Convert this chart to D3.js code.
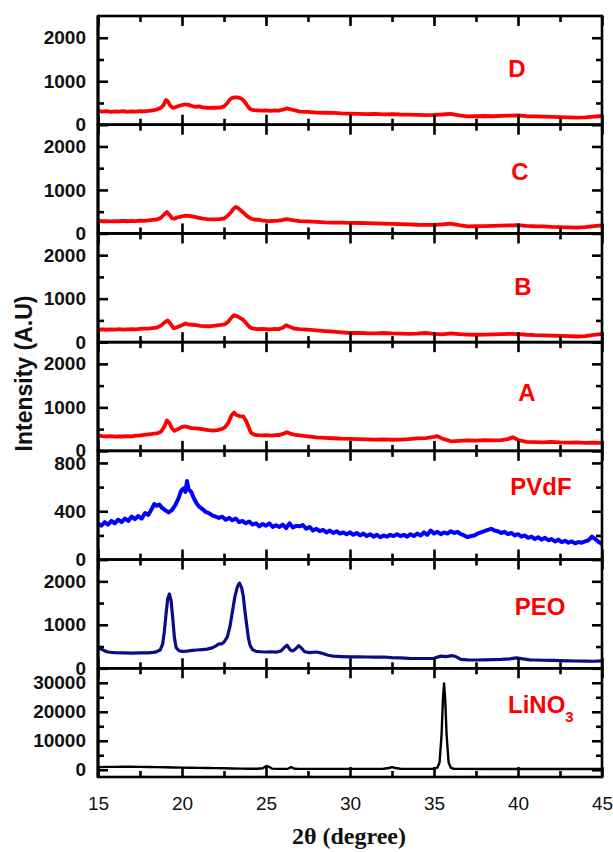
<!DOCTYPE html>
<html>
<head>
<meta charset="utf-8">
<script src="https://cdn.jsdelivr.net/npm/d3@7"></script>
<style>
  body { margin: 0; background: #ffffff; }
  svg { display: block; }
</style>
</head>
<body>
<svg id="chart" width="613" height="852"></svg>
<script>
// X-ray diffraction patterns, stacked panels sharing the 2θ axis.
const xTicksMajor = [15, 20, 25, 30, 35, 40, 45];
const xTicksMinor = [17.5, 22.5, 27.5, 32.5, 37.5, 42.5];

const panelNames = ["D", "C", "B", "A", "PVdF", "PEO", "LiNO3"];

// [2θ, intensity] pairs for each sample
const seriesD = [[15.0,320],[15.25,300],[15.5,310],[15.75,295],[16.0,305],[16.25,300],[16.5,310],[16.75,295],[17.0,305],[17.25,300],[17.5,315],[17.75,305],[18.0,320],[18.25,330],[18.5,350],[18.75,390],[18.9,450],[19.05,570],[19.15,540],[19.3,440],[19.45,390],[19.6,400],[19.8,430],[20.0,450],[20.2,470],[20.4,455],[20.6,430],[20.8,410],[21.0,420],[21.25,400],[21.5,390],[21.75,385],[22.0,390],[22.25,395],[22.5,420],[22.7,500],[22.85,580],[23.0,620],[23.15,630],[23.3,630],[23.45,615],[23.6,580],[23.75,520],[23.9,430],[24.05,360],[24.25,335],[24.5,330],[24.75,325],[25.0,330],[25.25,320],[25.5,330],[25.75,325],[26.0,345],[26.25,375],[26.5,350],[26.75,330],[27.0,300],[27.5,295],[28.0,280],[28.5,275],[29.0,270],[29.5,260],[30.0,255],[30.5,250],[31.0,245],[31.5,250],[32.0,240],[32.5,245],[33.0,235],[33.5,230],[34.0,225],[34.5,220],[35.0,225],[35.5,235],[36.0,250],[36.5,215],[37.0,190],[37.5,195],[38.0,200],[38.5,195],[39.0,205],[39.5,210],[40.0,215],[40.5,195],[41.0,190],[41.5,185],[42.0,180],[42.5,175],[43.0,170],[43.5,165],[44.0,170],[44.5,185],[45.0,200]];

const seriesC = [[15.0,290],[15.25,280],[15.5,285],[15.75,275],[16.0,285],[16.25,280],[16.5,290],[16.75,280],[17.0,290],[17.25,285],[17.5,295],[17.75,290],[18.0,300],[18.25,310],[18.5,320],[18.75,360],[18.95,440],[19.1,490],[19.25,430],[19.4,350],[19.55,340],[19.75,370],[20.0,390],[20.25,410],[20.5,400],[20.75,380],[21.0,360],[21.25,340],[21.5,330],[21.75,325],[22.0,325],[22.25,330],[22.5,345],[22.7,400],[22.9,480],[23.05,560],[23.2,610],[23.35,580],[23.5,530],[23.7,460],[23.9,390],[24.1,340],[24.3,320],[24.5,315],[24.75,300],[25.0,290],[25.25,285],[25.5,290],[25.75,295],[26.0,310],[26.25,330],[26.5,310],[26.75,295],[27.0,285],[27.5,275],[28.0,265],[28.5,255],[29.0,250],[29.5,250],[30.0,245],[30.5,240],[31.0,235],[31.5,230],[32.0,225],[32.5,220],[33.0,215],[33.5,210],[34.0,200],[34.5,195],[35.0,195],[35.5,210],[36.0,225],[36.5,190],[37.0,160],[37.5,165],[38.0,170],[38.5,175],[39.0,180],[39.5,185],[40.0,190],[40.5,175],[41.0,165],[41.5,160],[42.0,150],[42.5,145],[43.0,140],[43.5,135],[44.0,145],[44.5,170],[45.0,185]];

const seriesB = [[15.0,290],[15.25,295],[15.5,285],[15.75,295],[16.0,290],[16.25,300],[16.5,290],[16.75,295],[17.0,300],[17.25,295],[17.5,305],[17.75,310],[18.0,310],[18.25,320],[18.5,335],[18.75,380],[18.95,450],[19.15,500],[19.3,430],[19.5,320],[19.7,340],[19.95,380],[20.2,430],[20.35,410],[20.6,400],[20.85,390],[21.1,375],[21.35,370],[21.6,365],[21.85,375],[22.1,385],[22.35,395],[22.55,410],[22.75,470],[22.95,570],[23.1,620],[23.25,600],[23.45,560],[23.65,510],[23.85,420],[24.05,340],[24.25,310],[24.5,300],[24.75,305],[25.0,300],[25.25,295],[25.5,305],[25.75,300],[26.0,330],[26.2,390],[26.45,350],[26.7,310],[27.0,300],[27.5,290],[28.0,270],[28.5,255],[29.0,240],[29.5,225],[30.0,210],[30.5,215],[31.0,205],[31.5,200],[32.0,210],[32.5,200],[33.0,195],[33.5,190],[34.0,195],[34.5,210],[35.0,190],[35.5,180],[36.0,200],[36.5,185],[37.0,175],[37.5,170],[38.0,175],[38.5,180],[39.0,185],[39.5,190],[40.0,185],[40.5,170],[41.0,160],[41.5,155],[42.0,150],[42.5,145],[43.0,140],[43.5,130],[44.0,140],[44.5,165],[45.0,185]];

const seriesA = [[15.0,355],[15.25,340],[15.5,330],[15.75,340],[16.0,325],[16.25,335],[16.5,330],[16.75,340],[17.0,335],[17.25,350],[17.5,355],[17.75,370],[18.0,380],[18.25,390],[18.5,400],[18.75,440],[18.95,560],[19.1,700],[19.25,640],[19.4,520],[19.55,460],[19.75,500],[20.0,550],[20.2,560],[20.4,540],[20.6,525],[20.85,515],[21.1,505],[21.35,490],[21.6,475],[21.85,465],[22.1,475],[22.35,500],[22.55,540],[22.75,640],[22.95,820],[23.1,880],[23.25,820],[23.45,800],[23.65,790],[23.8,700],[23.95,560],[24.1,420],[24.3,370],[24.55,360],[24.8,355],[25.05,360],[25.3,350],[25.55,360],[25.8,365],[26.0,390],[26.25,430],[26.5,390],[26.75,365],[27.0,355],[27.5,335],[28.0,310],[28.5,300],[29.0,290],[29.5,280],[30.0,275],[30.5,270],[31.0,265],[31.5,260],[32.0,265],[32.5,255],[33.0,260],[33.5,270],[34.0,285],[34.5,295],[35.0,320],[35.2,340],[35.5,280],[36.0,220],[36.5,230],[37.0,240],[37.5,235],[38.0,245],[38.5,240],[39.0,245],[39.4,270],[39.7,315],[40.0,250],[40.5,205],[41.0,200],[41.5,195],[42.0,205],[42.5,195],[43.0,190],[43.5,195],[44.0,185],[44.5,190],[45.0,185]];

const seriesPVdF = [[15.0,300],[15.2,280],[15.4,310],[15.6,290],[15.8,320],[16.0,300],[16.2,330],[16.4,310],[16.6,340],[16.8,320],[17.0,355],[17.2,335],[17.4,360],[17.6,340],[17.8,385],[18.0,370],[18.2,420],[18.35,460],[18.5,445],[18.65,455],[18.8,430],[19.0,410],[19.2,390],[19.4,410],[19.6,450],[19.8,510],[19.95,570],[20.1,590],[20.2,560],[20.3,650],[20.4,580],[20.55,560],[20.7,510],[20.85,470],[21.0,440],[21.2,420],[21.4,395],[21.6,385],[21.8,365],[22.0,355],[22.2,345],[22.4,355],[22.6,330],[22.8,345],[23.0,325],[23.2,340],[23.4,310],[23.6,320],[23.8,300],[24.0,315],[24.2,290],[24.4,300],[24.6,275],[24.8,295],[25.0,280],[25.2,300],[25.4,270],[25.6,285],[25.8,270],[26.0,290],[26.2,260],[26.4,300],[26.6,265],[26.8,280],[27.0,275],[27.2,285],[27.4,255],[27.6,270],[27.8,240],[28.0,255],[28.2,235],[28.4,245],[28.6,225],[28.8,240],[29.0,220],[29.2,235],[29.4,215],[29.6,225],[29.8,210],[30.0,225],[30.2,205],[30.4,220],[30.6,200],[30.8,215],[31.0,195],[31.2,210],[31.4,190],[31.6,205],[31.8,185],[32.0,200],[32.2,190],[32.4,205],[32.6,195],[32.8,210],[33.0,195],[33.2,205],[33.4,190],[33.6,210],[33.8,195],[34.0,215],[34.2,200],[34.4,225],[34.6,205],[34.8,240],[35.0,215],[35.2,230],[35.4,210],[35.6,225],[35.8,215],[36.0,235],[36.2,220],[36.4,230],[36.6,210],[36.8,200],[37.0,185],[37.2,195],[37.4,200],[37.6,215],[37.8,225],[38.0,235],[38.2,245],[38.4,255],[38.6,240],[38.8,235],[39.0,220],[39.2,230],[39.4,210],[39.6,220],[39.8,200],[40.0,210],[40.2,190],[40.4,200],[40.6,180],[40.8,190],[41.0,170],[41.2,185],[41.4,165],[41.6,180],[41.8,160],[42.0,170],[42.2,150],[42.4,165],[42.6,145],[42.8,155],[43.0,140],[43.2,150],[43.4,135],[43.6,145],[43.8,140],[44.0,150],[44.2,160],[44.4,190],[44.6,170],[44.8,145],[45.0,130]];

const seriesPEO = [[15.0,470],[15.2,440],[15.4,400],[15.6,375],[15.8,365],[16.0,360],[16.5,355],[17.0,350],[17.5,355],[18.0,355],[18.4,370],[18.7,420],[18.85,560],[18.95,850],[19.05,1250],[19.15,1600],[19.25,1710],[19.35,1550],[19.45,1150],[19.55,700],[19.65,480],[19.8,410],[20.0,390],[20.3,395],[20.6,410],[20.9,420],[21.2,430],[21.5,440],[21.8,470],[22.0,510],[22.2,560],[22.35,560],[22.5,600],[22.7,720],[22.85,950],[23.0,1300],[23.15,1650],[23.3,1880],[23.42,1960],[23.55,1850],[23.65,1650],[23.75,1300],[23.85,1000],[23.95,700],[24.05,530],[24.2,430],[24.4,390],[24.7,380],[25.0,375],[25.3,380],[25.6,370],[25.9,400],[26.1,480],[26.25,530],[26.45,420],[26.6,400],[26.8,460],[26.95,520],[27.1,470],[27.3,380],[27.6,360],[28.0,375],[28.3,350],[28.7,300],[29.0,280],[29.5,270],[30.0,262],[30.5,265],[31.0,260],[31.5,255],[32.0,260],[32.5,245],[33.0,240],[33.5,230],[34.0,225],[34.5,225],[35.0,230],[35.4,280],[35.7,270],[36.1,290],[36.3,270],[36.6,205],[37.0,195],[37.5,190],[38.0,195],[38.5,200],[39.0,205],[39.5,215],[39.9,240],[40.3,215],[40.7,195],[41.0,190],[41.5,185],[42.0,180],[42.5,175],[43.0,172],[43.5,168],[44.0,165],[44.5,162],[45.0,170]];

const seriesLiNO3 = [[15.0,900],[15.5,1000],[16.0,1000],[16.5,1050],[17.0,1050],[17.5,1000],[18.0,950],[18.5,900],[19.0,850],[19.5,800],[20.0,750],[20.5,700],[21.0,650],[21.5,600],[22.0,550],[22.5,500],[23.0,450],[23.5,400],[24.0,350],[24.5,350],[24.8,500],[25.0,1200],[25.15,1100],[25.35,400],[25.7,300],[26.0,300],[26.3,350],[26.5,900],[26.7,350],[27.0,300],[28.0,300],[29.0,300],[30.0,300],[31.0,300],[31.5,300],[32.0,350],[32.3,600],[32.5,900],[32.7,600],[33.0,350],[34.0,300],[34.5,300],[35.0,350],[35.2,700],[35.33,2500],[35.45,12000],[35.53,24000],[35.6,29800],[35.67,24000],[35.75,12000],[35.87,2500],[36.0,700],[36.15,350],[37.0,300],[38.0,250],[39.0,250],[40.0,250],[41.0,250],[42.0,250],[43.0,250],[44.0,250],[45.0,250]];

const seriesData = [seriesD, seriesC, seriesB, seriesA, seriesPVdF, seriesPEO, seriesLiNO3];
const seriesColors = ["#ff0000", "#ff0000", "#ff0000", "#ff0000", "#0000ff", "#0c0c84", "#000000"];
const lineWidths = [3.8, 3.8, 3.8, 3.8, 4.0, 3.2, 2.4];

const yDomains = [[0, 2500], [0, 2500], [0, 2500], [0, 2500], [0, 900], [0, 2500], [-2500, 35000]];
const yTicksMajor = [[0,1000,2000],[0,1000,2000],[0,1000,2000],[0,1000,2000],[0,400,800],[0,1000,2000],[0,10000,20000,30000]];
const yTicksMinor = [[500,1500],[500,1500],[500,1500],[500,1500],[200,600],[500,1500],[5000,15000,25000]];

// label placement inside each panel: [x, baseline offset from panel top]
const labelPlaces = [[517, 61], [520, 55], [523, 62], [527, 59], [541, 44], [540, 55], [508, 45]];

const svg = d3.select("#chart");
const W = 613, H = 852;
svg.append("rect").attr("width", W).attr("height", H).attr("fill", "#ffffff");

const plotLeft = 98, plotRight = 602, plotTop = 16, plotBottom = 777;
const nPanels = panelNames.length;
const panelH = (plotBottom - plotTop) / nPanels;

const x = d3.scaleLinear().domain([15, 45]).range([plotLeft, plotRight]);

const sansFont = "'Liberation Sans', Arial, Helvetica, sans-serif";

const defs = svg.append("defs");

panelNames.forEach((name, i) => {
  const pTop = plotTop + i * panelH;
  const pBot = pTop + panelH;
  const y = d3.scaleLinear().domain(yDomains[i]).range([pBot, pTop]);
  const g = svg.append("g").attr("class", "panel");

  defs.append("clipPath").attr("id", "clip" + i)
    .append("rect").attr("x", plotLeft).attr("y", pTop).attr("width", plotRight - plotLeft).attr("height", panelH);

  // diffraction trace
  const line = d3.line().x(d => x(d[0])).y(d => y(d[1])).curve(d3.curveLinear);
  g.append("path")
    .datum(seriesData[i])
    .attr("clip-path", "url(#clip" + i + ")")
    .attr("fill", "none")
    .attr("stroke", seriesColors[i])
    .attr("stroke-width", lineWidths[i])
    .attr("stroke-linejoin", "round")
    .attr("stroke-linecap", "round")
    .attr("d", line);

  // ticks on all four sides, pointing inward
  const styleAxis = sel => {
    sel.select(".domain").remove();
    sel.selectAll(".tick line").attr("stroke", "#000").attr("stroke-width", 2.6);
  };

  const isLast = i === nPanels - 1;
  const xb = g.append("g").attr("transform", `translate(0,${pBot})`)
    .call(d3.axisBottom(x).tickValues(xTicksMajor).tickSize(-10).tickPadding(20)
      .tickFormat(isLast ? d3.format("d") : () => ""));
  styleAxis(xb);
  xb.selectAll("text").attr("font-family", sansFont).attr("font-size", 19).attr("fill", "#111");
  styleAxis(g.append("g").attr("transform", `translate(0,${pBot})`)
    .call(d3.axisBottom(x).tickValues(xTicksMinor).tickSize(-6).tickFormat(() => "")));

  styleAxis(g.append("g").attr("transform", `translate(0,${pTop})`)
    .call(d3.axisTop(x).tickValues(xTicksMajor).tickSize(-10).tickFormat(() => "")));
  styleAxis(g.append("g").attr("transform", `translate(0,${pTop})`)
    .call(d3.axisTop(x).tickValues(xTicksMinor).tickSize(-6).tickFormat(() => "")));

  const yl = g.append("g").attr("transform", `translate(${plotLeft},0)`)
    .call(d3.axisLeft(y).tickValues(yTicksMajor[i]).tickSize(-10).tickPadding(12).tickFormat(d3.format("d")));
  styleAxis(yl);
  yl.selectAll("text").attr("font-family", sansFont).attr("font-size", 19)
    .attr("font-weight", "bold").attr("fill", "#111");
  styleAxis(g.append("g").attr("transform", `translate(${plotLeft},0)`)
    .call(d3.axisLeft(y).tickValues(yTicksMinor[i]).tickSize(-6).tickFormat(() => "")));

  styleAxis(g.append("g").attr("transform", `translate(${plotRight},0)`)
    .call(d3.axisRight(y).tickValues(yTicksMajor[i]).tickSize(-10).tickFormat(() => "")));
  styleAxis(g.append("g").attr("transform", `translate(${plotRight},0)`)
    .call(d3.axisRight(y).tickValues(yTicksMinor[i]).tickSize(-6).tickFormat(() => "")));

  // panel frame
  g.append("rect")
    .attr("x", plotLeft).attr("y", pTop)
    .attr("width", plotRight - plotLeft).attr("height", panelH)
    .attr("fill", "none").attr("stroke", "#000").attr("stroke-width", 2.6);

  // sample name
  const [lx, ly] = labelPlaces[i];
  const label = g.append("text")
    .attr("x", lx).attr("y", pTop + ly)
    .attr("font-family", sansFont).attr("font-size", 24).attr("font-weight", "bold")
    .attr("fill", "#ff0000");
  if (name === "LiNO3") {
    label.attr("text-anchor", "start");
    label.append("tspan").text("LiNO");
    label.append("tspan").attr("font-size", 15).attr("dy", 9).text("3");
  } else {
    label.attr("text-anchor", "middle").text(name);
  }
});

// thicker left spine
svg.append("line").attr("x1", plotLeft).attr("x2", plotLeft).attr("y1", plotTop).attr("y2", plotBottom)
  .attr("stroke", "#000").attr("stroke-width", 3);

// axis titles
svg.append("text")
  .attr("transform", `translate(32,${(plotTop + plotBottom) / 2 - 23}) rotate(-90)`)
  .attr("text-anchor", "middle")
  .attr("font-family", sansFont).attr("font-size", 23).attr("font-weight", "bold")
  .attr("fill", "#111")
  .text("Intensity (A.U)");

svg.append("text")
  .attr("x", 349).attr("y", 844)
  .attr("text-anchor", "middle")
  .attr("font-family", "'Liberation Serif', 'Times New Roman', serif")
  .attr("font-size", 24).attr("font-weight", "bold").attr("fill", "#111")
  .text("2θ (degree)");
</script>
</body>
</html>
